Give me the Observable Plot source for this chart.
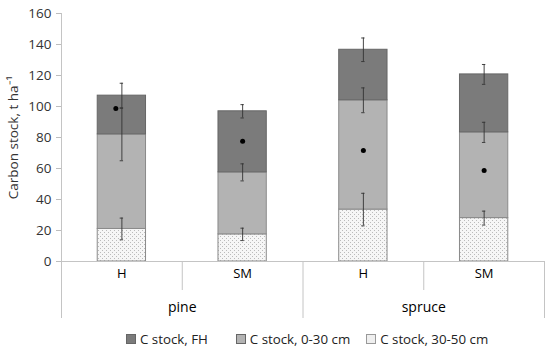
<!DOCTYPE html>
<html><head><meta charset="utf-8">
<script src="https://cdn.jsdelivr.net/npm/d3@7"></script>
<script src="https://cdn.jsdelivr.net/npm/@observablehq/plot@0.6"></script>
<style>
body{margin:0;background:#fff;font-family:"Open Sans","Liberation Sans",sans-serif;}
#wrap{width:550px;height:352px;position:relative;}
#legend{display:flex;justify-content:flex-start;align-items:center;height:27px;font-size:13.3px;color:#222;padding-left:126px;}
.item{display:flex;align-items:center;}
.sw{width:8px;height:8px;border:1px solid #777;margin-right:4px;}
</style></head>
<body><div id="wrap"><div id="chart"></div><div id="legend"></div></div>
<script>
const categories = ["H", "SM", "H", "SM"];
const species = ["pine", "spruce"];
const layers = ["C stock, FH", "C stock, 0-30 cm", "C stock, 30-50 cm"];
const deep = [21, 17.5, 33.5, 28];        // 30-50 cm
const mid = [61, 40, 70.5, 55.3];          // 0-30 cm
const fh = [25, 39.4, 32.6, 37.4];         // FH
const errDeep = [7, 4, 10.5, 4.5];
const errMid = [17, 5.5, 8, 6.5];
const errFH = [8, 4.3, 7.6, 6.4];
const stars = [98.7, 77.6, 71.6, 58.7];
const yTicks = [0, 20, 40, 60, 80, 100, 120, 140, 160];

const colors = {"C stock, FH": "#7b7b7b", "C stock, 0-30 cm": "#b3b3b3", "C stock, 30-50 cm": "url(#dotsLight)"};
const swatch = {"C stock, FH": "#7b7b7b", "C stock, 0-30 cm": "#b3b3b3", "C stock, 30-50 cm": "#efefef"};

const segs = [];
const errs = [];
categories.forEach((c, i) => {
  const a = deep[i], b = a + mid[i], t = b + fh[i];
  segs.push({i, layer: layers[2], y1: 0, y2: a});
  segs.push({i, layer: layers[1], y1: a, y2: b});
  segs.push({i, layer: layers[0], y1: b, y2: t});
  errs.push({i, y: a, e: errDeep[i]});
  errs.push({i, y: b, e: errMid[i]});
  errs.push({i, y: t, e: errFH[i]});
});
const starData = stars.map((v, i) => ({i, v}));
const catData = categories.map((c, i) => ({i, c}));
const spData = species.map((s, k) => ({k, s}));
const outerSeps = [2, 4];
const innerSeps = [1, 3];

const H = 325, mTop = 13, mBot = 64;
const plotH = H - mTop - mBot;
const barHalf = 0.2, capHalf = 0.014;

const chart = Plot.plot({
  width: 550, height: H,
  marginTop: mTop, marginBottom: mBot, marginLeft: 61, marginRight: 6,
  style: {fontFamily: "Open Sans, Liberation Sans, sans-serif", fontSize: "13.5px", color: "#333"},
  x: {domain: [0, 4], axis: null},
  y: {domain: [0, 160], ticks: yTicks},
  marks: [
    Plot.axisY({ticks: yTicks, tickSize: 5, tickPadding: 5, stroke: "#bdbdbd", label: "Carbon stock, t ha⁻¹",
      labelAnchor: "center", labelArrow: "none", labelOffset: 53, fontSize: 13.5, color: "#333"}),
    Plot.rect(segs, {x1: d => d.i + 0.5 - barHalf, x2: d => d.i + 0.5 + barHalf, y1: "y1", y2: "y2",
      fill: d => colors[d.layer], stroke: d => d.layer === layers[0] ? "#666" : "#8a8a8a", strokeWidth: 1}),
    Plot.ruleY([0], {stroke: "#c4c4c4"}),
    Plot.ruleX([0], {stroke: "#c4c4c4", insetBottom: -57}),
    Plot.ruleX(outerSeps, {x: d => d, stroke: "#c4c4c4", insetTop: plotH, insetBottom: -57}),
    Plot.ruleX(innerSeps, {x: d => d, stroke: "#c4c4c4", insetTop: plotH, insetBottom: -29}),
    Plot.ruleX(errs, {x: d => d.i + 0.5, y1: d => d.y - d.e, y2: d => d.y + d.e, stroke: "#333", strokeWidth: 0.9}),
    Plot.ruleY(errs, {x1: d => d.i + 0.5 - capHalf, x2: d => d.i + 0.5 + capHalf, y: d => d.y - d.e, stroke: "#333", strokeWidth: 0.9}),
    Plot.ruleY(errs, {x1: d => d.i + 0.5 - capHalf, x2: d => d.i + 0.5 + capHalf, y: d => d.y + d.e, stroke: "#333", strokeWidth: 0.9}),
    Plot.dot(starData, {x: d => d.i + 0.5 + (d.i === 0 ? -0.05 : 0), y: "v", r: 2.5, fill: "#000"}),
    Plot.text(catData, {x: d => d.i + 0.5, text: "c", frameAnchor: "bottom", dy: 16, fontSize: 13, fill: "black"}),
    Plot.text(spData, {x: d => d.k * 2 + 1, text: "s", frameAnchor: "bottom", dy: 50, fontSize: 14, fill: "black"})
  ]
});

const svg = d3.select(chart);
const defs = svg.insert("defs", ":first-child");
const p = defs.append("pattern").attr("id", "dotsLight").attr("patternUnits", "userSpaceOnUse")
  .attr("width", 4).attr("height", 4);
p.append("rect").attr("width", 4).attr("height", 4).attr("fill", "#f6f6f6");
p.append("rect").attr("x", 0).attr("y", 0).attr("width", 1).attr("height", 1).attr("fill", "#bbbbbb");
p.append("rect").attr("x", 2).attr("y", 2).attr("width", 1).attr("height", 1).attr("fill", "#bbbbbb");

document.getElementById("chart").appendChild(chart);

const gaps = [28, 16, 0];
const lg = d3.select("#legend");
layers.forEach((l, k) => {
  const it = lg.append("div").attr("class", "item").style("margin-right", gaps[k] + "px");
  it.append("div").attr("class", "sw").style("background", swatch[l])
    .style("border-color", l === layers[2] ? "#999" : "#666");
  it.append("span").text(l);
});
</script></body></html>
